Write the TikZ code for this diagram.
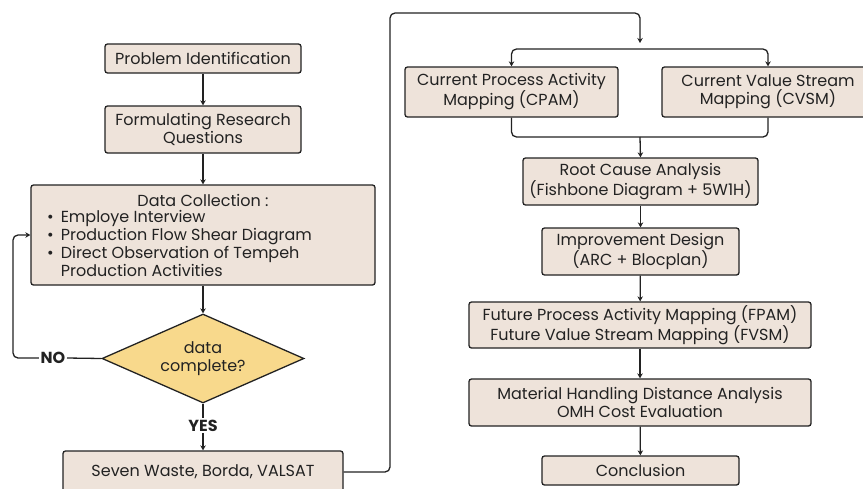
\documentclass[tikz,border=0pt]{standalone}
\usepackage{fontspec}
\setmainfont{Poppins}
\usetikzlibrary{arrows.meta,shapes.geometric}

\definecolor{boxfill}{HTML}{EEE3DA}
\definecolor{decfill}{HTML}{F8D98C}
\definecolor{ink}{HTML}{222222}

\newcommand{\bodysize}{\fontsize{16}{18}\selectfont}

\tikzset{
  stepbox/.style={draw=ink, line width=1.3pt, fill=boxfill, rounded corners=2.5pt,
    align=center, inner sep=0pt, font=\bodysize, text=ink},
  decision/.style={diamond, aspect=2.27, draw=ink, line width=1.3pt, fill=decfill, align=center,
    inner sep=0pt, font=\bodysize, text=ink},
  flow/.style={draw=ink, line width=1.3pt, rounded corners=5pt,
    -{Stealth[length=5pt,width=5.5pt]}},
  plain/.style={draw=ink, line width=1.3pt, rounded corners=5pt},
  answer/.style={font=\bodysize\bfseries, text=ink, inner sep=1.5pt}
}

\begin{document}
\begin{tikzpicture}[x=1pt,y=-1pt]
\useasboundingbox (0,0) rectangle (863,488);
\begin{scope}
\clip (0,0) rectangle (863,488);

% left column
\node[stepbox, minimum width=196pt, minimum height=29pt] (pi) at (203,58.5) {Problem Identification};
\node[stepbox, minimum width=196pt, minimum height=47pt] (frq) at (203,129.5) {Formulating Research\\Questions};
\node[stepbox, minimum width=344pt, minimum height=100pt] (dc) at (203,235) {};
\node[font=\bodysize, text=ink, inner sep=0pt] (dctitle) at (203,200) {Data Collection :};
\node[font=\bodysize, text=ink, inner sep=0pt, anchor=north west] (dclist) at (47,210)
  {\begin{tabular}{@{}l@{\hspace{7pt}}l@{}}
   \textbullet & Employe Interview\\
   \textbullet & Production Flow Shear Diagram\\
   \textbullet & Direct Observation of Tempeh\\
               & Production Activities
   \end{tabular}};
\node[decision, minimum width=202pt, minimum height=89pt] (dia) at (203,358.5) {data\\complete?};
\node[answer] (no) at (53,358) {NO};
\node[answer] (yes) at (203,425.5) {YES};
\node[stepbox, minimum width=280pt, minimum height=42pt] (sw) at (203,472) {Seven Waste, Borda, VALSAT};

% right column
\node[stepbox, minimum width=213pt, minimum height=50pt] (cpam) at (511.5,92) {Current Process Activity\\Mapping (CPAM)};
\node[stepbox, minimum width=212pt, minimum height=50pt] (cvsm) at (768,92) {Current Value Stream\\Mapping (CVSM)};
\node[stepbox, minimum width=235pt, minimum height=47pt] (rca) at (640.5,181.5) {Root Cause Analysis\\(Fishbone Diagram + 5W1H)};
\node[stepbox, minimum width=197pt, minimum height=47pt] (imp) at (640.5,251.5) {Improvement Design\\(ARC + Blocplan)};
\node[stepbox, minimum width=342pt, minimum height=46pt] (fut) at (640,325) {Future Process Activity Mapping (FPAM)\\Future Value Stream Mapping (FVSM)};
\node[stepbox, minimum width=342pt, minimum height=47pt] (mhd) at (640,402.5) {Material Handling Distance Analysis\\OMH Cost Evaluation};
\node[stepbox, minimum width=197pt, minimum height=29pt] (con) at (640.5,470.5) {Conclusion};

% routing points
\coordinate (loopx) at (13,0);
\coordinate (risex) at (390,13);
\coordinate (topin) at (640,13);
\coordinate (topend) at (640,43);
\coordinate (split) at (640,49);
\coordinate (merge) at (640,137);

% left connectors
\draw[flow] (pi) -- (frq);
\draw[flow] (frq) -- (dc);
\draw[flow] (dc) -- (dia);
\draw[plain] (dia.west) -- (no.east);
\draw[flow] (no.west) -- (no.west -| loopx) |- (dc.west);
\draw[plain, rounded corners=0pt] (dia.south) -- (yes.north);
\draw[flow] (yes.south) -- (sw.north);

% crossing to the right column
\draw[flow] (sw.east) -| (risex) -- (topin) -- (topend);
\draw[flow, {Stealth[length=5pt,width=5.5pt]}-{Stealth[length=5pt,width=5.5pt]}] (cpam.north) |- (split) -| (cvsm.north);
\draw[plain] (cpam.south) |- (merge) -| (cvsm.south);
\draw[flow] (merge) -- (rca.north);
\draw[flow] (rca) -- (imp);
\draw[flow] (imp) -- (fut);
\draw[flow] (fut) -- (mhd);
\draw[flow] (mhd) -- (con);
\end{scope}
\end{tikzpicture}
\end{document}
